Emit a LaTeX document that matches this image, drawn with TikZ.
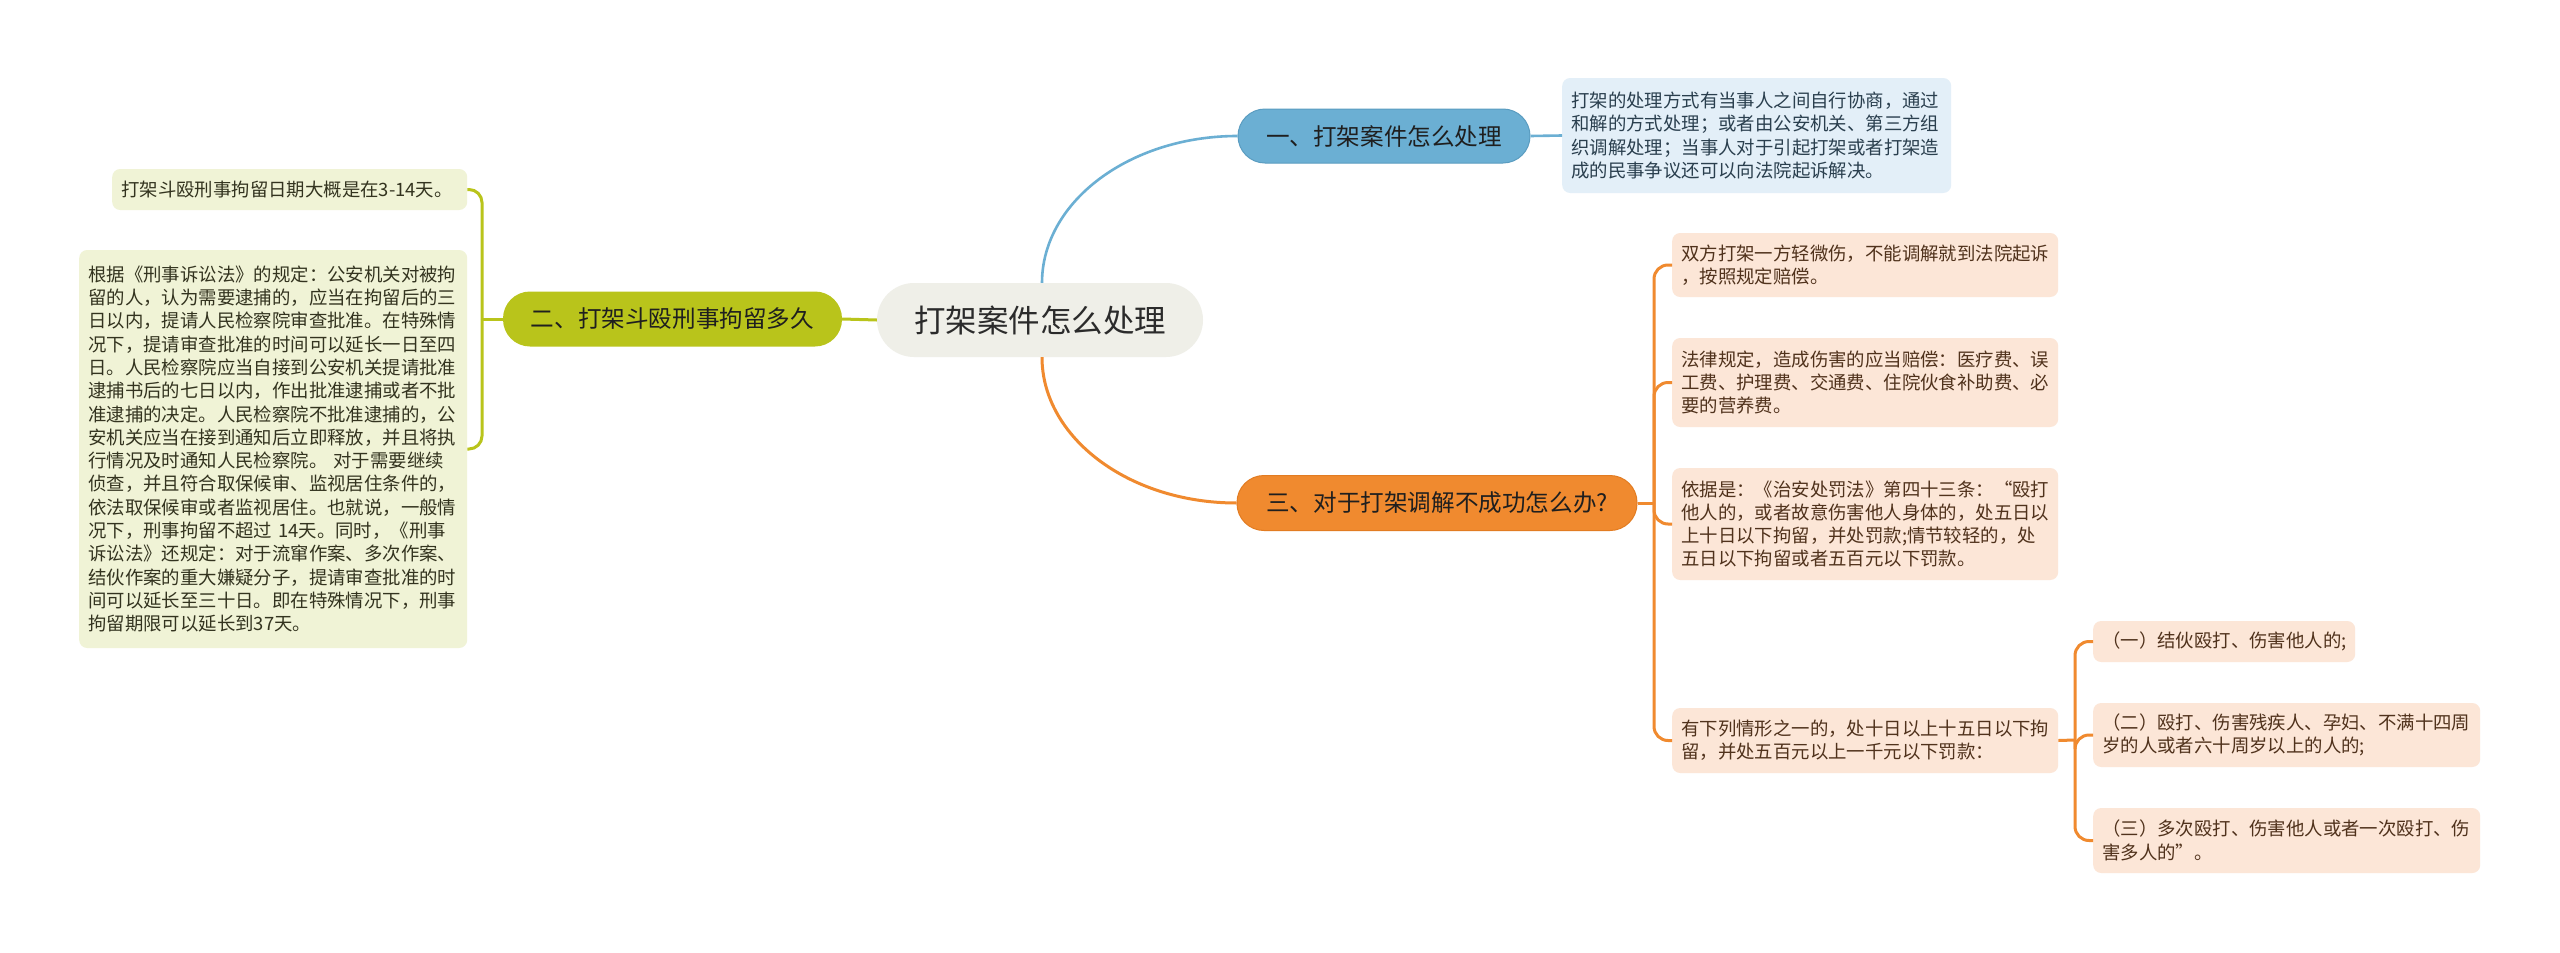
\documentclass[tikz,border=0pt]{standalone}
\usepackage{fontspec}
\newfontfamily\cjk{Noto Sans CJK SC}
\definecolor{cfill}{HTML}{EFEFE8}
\definecolor{ctext}{HTML}{2B2B2B}
\definecolor{bmain}{HTML}{6BAFD3}
\definecolor{bdark}{HTML}{5A9CC0}
\definecolor{bleaf}{HTML}{E3EFF8}
\definecolor{btext}{HTML}{2A3F4E}
\definecolor{gmain}{HTML}{B9C41B}
\definecolor{gleaf}{HTML}{F0F3D6}
\definecolor{gtext}{HTML}{33331F}
\definecolor{omain}{HTML}{F08A2F}
\definecolor{odark}{HTML}{E27C22}
\definecolor{oleaf}{HTML}{FCE6D7}
\definecolor{otext}{HTML}{50321C}
\begin{document}
\begin{tikzpicture}[x=1pt,y=-1pt,
  leafbox/.style={anchor=west, rounded corners=8pt, inner xsep=9pt, inner ysep=0pt, align=left,
    font=\cjk\fontsize{18.4}{23.3}\selectfont},
  pillbox/.style={rounded corners=27pt, inner sep=0pt, minimum height=55pt, align=center,
    font=\cjk\fontsize{23.6}{28}\selectfont, text=black!88},
  bline/.style={draw=bmain, line width=2.6pt},
  gline/.style={draw=gmain, line width=3pt},
  oline/.style={draw=omain, line width=3pt}]
\useasboundingbox (0,0) rectangle (2560,953);
\fill[white] (0,0) rectangle (2560,953);

% central
\node[fill=cfill, rounded corners=37pt, minimum width=326pt, minimum height=74pt, inner sep=0pt,
  font=\cjk\fontsize{31.5}{36}\selectfont, text=ctext] (c) at (1040,320) {打架案件怎么处理};

% branches
\node[pillbox, fill=bmain, draw=bdark, line width=1pt, minimum width=292pt, minimum height=54pt] (b) at (1384,136) {一、打架案件怎么处理};
\node[pillbox, fill=gmain, minimum width=339pt] (g) at (672.5,319) {二、打架斗殴刑事拘留多久};
\node[pillbox, fill=omain, draw=odark, line width=1pt, minimum width=400pt] (o) at (1437,503) {三、对于打架调解不成功怎么办?};

% blue leaf
\node[leafbox, fill=bleaf, text=btext, text width=371pt, minimum height=115pt] (bl) at (1562,135.5) {打架的处理方式有当事人之间自行协商，通过\\和解的方式处理；或者由公安机关、第三方组\\织调解处理；当事人对于引起打架或者打架造\\成的民事争议还可以向法院起诉解决。};

% green leaves
\node[leafbox, fill=gleaf, text=gtext, text width=337pt, minimum height=41pt] (g1) at (112,189.5) {打架斗殴刑事拘留日期大概是在3-14天。};
\node[leafbox, fill=gleaf, text=gtext, text width=370pt, minimum height=398pt] (g2) at (79,449) {根据《刑事诉讼法》的规定：公安机关对被拘\\留的人，认为需要逮捕的，应当在拘留后的三\\日以内，提请人民检察院审查批准。在特殊情\\况下，提请审查批准的时间可以延长一日至四\\日。人民检察院应当自接到公安机关提请批准\\逮捕书后的七日以内，作出批准逮捕或者不批\\准逮捕的决定。人民检察院不批准逮捕的，公\\安机关应当在接到通知后立即释放，并且将执\\行情况及时通知人民检察院。 对于需要继续\\侦查，并且符合取保候审、监视居住条件的，\\依法取保候审或者监视居住。也就说，一般情\\况下，刑事拘留不超过 14天。同时，《刑事\\诉讼法》还规定：对于流窜作案、多次作案、\\结伙作案的重大嫌疑分子，提请审查批准的时\\间可以延长至三十日。即在特殊情况下，刑事\\拘留期限可以延长到37天。};

% orange leaves
\node[leafbox, fill=oleaf, text=otext, text width=368pt, minimum height=64pt] (oa) at (1672,265) {双方打架一方轻微伤，不能调解就到法院起诉\\，按照规定赔偿。};
\node[leafbox, fill=oleaf, text=otext, text width=368pt, minimum height=89pt] (ob) at (1672,382.5) {法律规定，造成伤害的应当赔偿：医疗费、误\\工费、护理费、交通费、住院伙食补助费、必\\要的营养费。};
\node[leafbox, fill=oleaf, text=otext, text width=368pt, minimum height=112pt] (oc) at (1672,524) {依据是：《治安处罚法》第四十三条：“殴打\\他人的，或者故意伤害他人身体的，处五日以\\上十日以下拘留，并处罚款;情节较轻的，处\\五日以下拘留或者五百元以下罚款。};
\node[leafbox, fill=oleaf, text=otext, text width=368pt, minimum height=65pt] (od) at (1672,740.5) {有下列情形之一的，处十日以上十五日以下拘\\留，并处五百元以上一千元以下罚款：};

% sub leaves
\node[leafbox, fill=oleaf, text=otext, text width=244pt, minimum height=41pt] (s1) at (2093,641.5) {（一）结伙殴打、伤害他人的;};
\node[leafbox, fill=oleaf, text=otext, text width=369pt, minimum height=64pt] (s2) at (2093,735) {（二）殴打、伤害残疾人、孕妇、不满十四周\\岁的人或者六十周岁以上的人的;};
\node[leafbox, fill=oleaf, text=otext, text width=369pt, minimum height=65pt] (s3) at (2093,840.5) {（三）多次殴打、伤害他人或者一次殴打、伤\\害多人的”。};

% connectors from center
\draw[bline] ([xshift=2pt]c.north) .. controls +(0,-81) and +(-108,0) .. (b.west);
\draw[oline] ([xshift=2pt]c.south) .. controls +(0,80) and +(-108,0) .. (o.west);
\draw[gline] (c.west) -- (g.east);

% blue
\draw[bline] (b.east) -- (bl.west);

% green bracket
\coordinate (gj) at (482,319);
\draw[gline] (g.west) -- (gj);
\draw[gline, rounded corners=13pt] (gj) |- (g1.east);
\draw[gline, rounded corners=13pt] (gj) |- (g2.east);

% orange bracket
\coordinate (oj) at (1654,503);
\draw[oline] (o.east) -- (oj);
\foreach \n in {oa,ob,oc,od}{\draw[oline, rounded corners=14pt] (oj) |- (\n.west);}

% sub bracket
\coordinate (sj) at (2075,740);
\draw[oline] (od.east) -- (sj);
\foreach \n in {s1,s2,s3}{\draw[oline, rounded corners=14pt] (sj) |- (\n.west);}
\end{tikzpicture}
\end{document}
